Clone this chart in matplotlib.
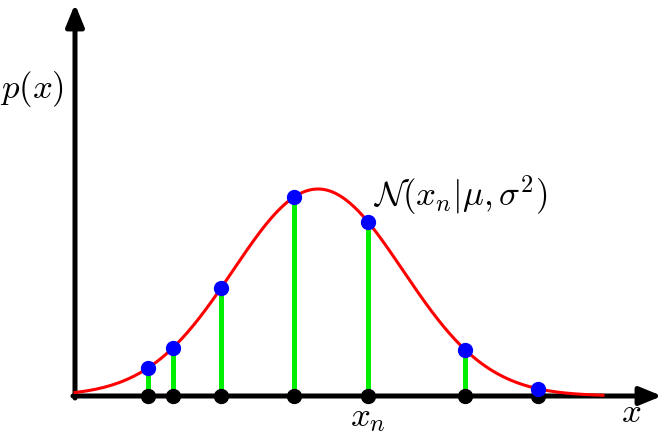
import numpy as np
import matplotlib.pyplot as plt

plt.rcParams['mathtext.fontset'] = 'cm'

# data (x in units of 100 px from the origin)
x_n = [0.73, 0.98, 1.46, 2.19, 2.93, 3.90, 4.63]
mu = 2.43
sigma = 0.85
peak = 2.07
x_curve_end = 5.28


def gauss(x):
    return peak * np.exp(-(np.asarray(x) - mu) ** 2 / (2 * sigma ** 2))


fig = plt.figure(figsize=(6.65, 4.35), dpi=100)
ax = fig.add_axes([0, 0, 1, 1])
ax.set_xlim(-0.75, 5.90)
ax.set_ylim(-0.38, 3.97)
ax.axis('off')

# axes arrows
arrow = dict(arrowstyle='-|>,head_length=1.1,head_width=0.45', lw=3.6,
             color='black', shrinkA=0, shrinkB=0, mutation_scale=12)
ax.annotate('', xy=(5.87, 0), xytext=(-0.02, 0), arrowprops=arrow, zorder=2)
ax.annotate('', xy=(0, 3.92), xytext=(0, -0.02), arrowprops=arrow, zorder=2)

# gaussian curve
xs = np.linspace(0, x_curve_end, 400)
ax.plot(xs, gauss(xs), color='red', lw=2.2, zorder=3)

# samples
yn = gauss(x_n)
ax.vlines(x_n, 0, yn, color='#00ee00', lw=3.6, zorder=2)
ax.plot(x_n, np.zeros(len(x_n)), 'o', color='black', ms=10, zorder=4)
ax.plot(x_n, yn, 'o', color='blue', ms=10, zorder=5)

# labels
ax.text(-0.43, 3.08, r'$p(x)$', fontsize=25, ha='center', va='center')
ax.text(2.98, 2.02, r'$\mathcal{N}(x_n|\mu,\sigma^2)$', fontsize=25,
        ha='left', va='center')
ax.text(2.93, -0.2, r'$x_n$', fontsize=25, ha='center', va='center')
ax.text(5.56, -0.15, r'$x$', fontsize=25, ha='center', va='center')

fig.savefig('out.png', dpi=100)
